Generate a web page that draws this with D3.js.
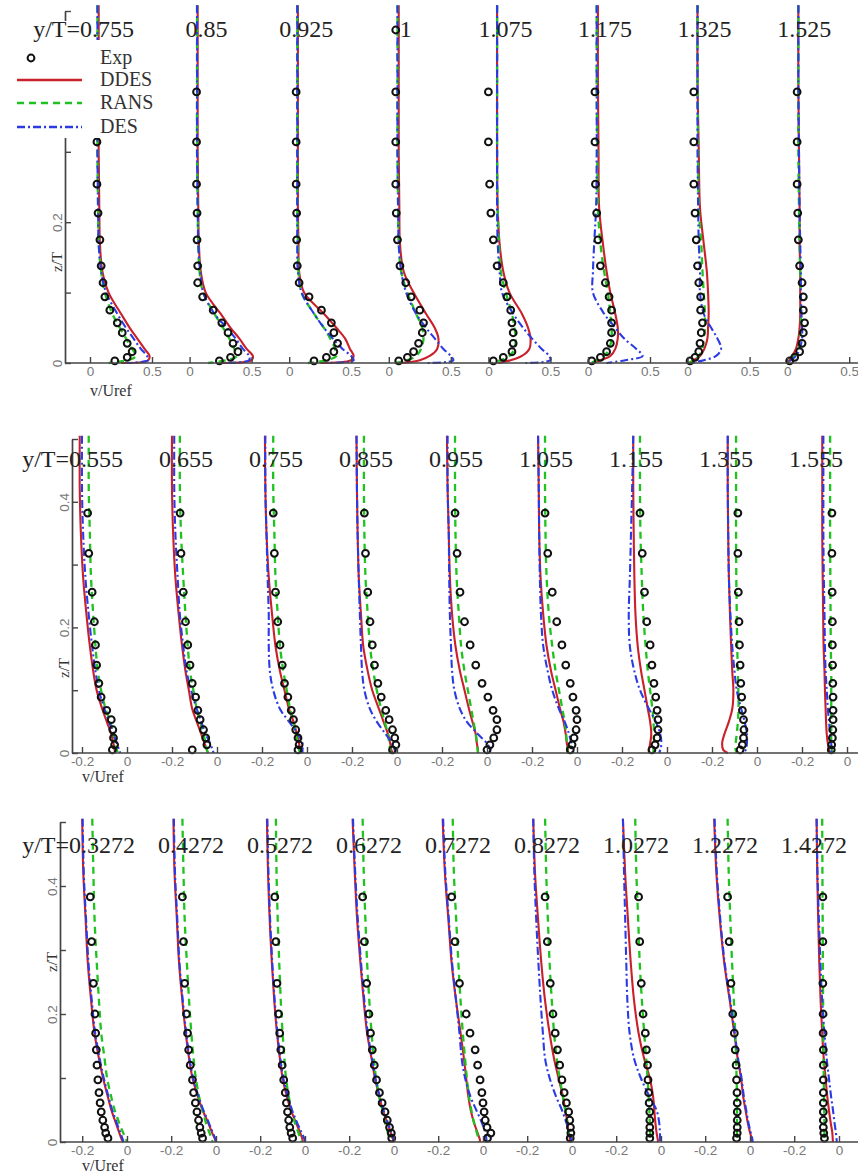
<!DOCTYPE html>
<html>
<head>
<meta charset="utf-8">
<script src="https://cdn.jsdelivr.net/npm/d3@7"></script>
<style>
  body { margin: 0; background: #fff; }
  svg { display: block; }
</style>
</head>
<body>
<svg id="chart" width="858" height="1173"></svg>
<script>
// ---- top row: y/T stations, v/Uref profiles (z/T listed top -> wall) ----
var topTitles = ['0.755', '0.85', '0.925', '1', '1.075', '1.175', '1.325', '1.525'];
var topTicks = [0, 0.5];
var topZ = [0.508, 0.4, 0.3, 0.22, 0.17, 0.13, 0.1, 0.07, 0.05, 0.035, 0.02, 0.01, 0.004, 0];
var topDDES = [
  [0.07, 0.07, 0.07, 0.075, 0.08, 0.10, 0.15, 0.25, 0.32, 0.38, 0.44, 0.48, 0.47, 0.25],
  [0.065, 0.065, 0.065, 0.07, 0.075, 0.09, 0.13, 0.25, 0.33, 0.40, 0.46, 0.51, 0.50, 0.25],
  [0.07, 0.07, 0.07, 0.07, 0.075, 0.08, 0.12, 0.28, 0.38, 0.45, 0.49, 0.52, 0.50, 0.25],
  [0.08, 0.08, 0.08, 0.085, 0.09, 0.12, 0.20, 0.30, 0.37, 0.40, 0.39, 0.33, 0.25, 0.10],
  [0.07, 0.07, 0.07, 0.075, 0.09, 0.12, 0.17, 0.27, 0.32, 0.34, 0.33, 0.27, 0.18, 0.08],
  [0.08, 0.08, 0.085, 0.09, 0.12, 0.15, 0.18, 0.22, 0.24, 0.24, 0.22, 0.18, 0.10, 0.03],
  [0.08, 0.08, 0.09, 0.10, 0.13, 0.155, 0.165, 0.17, 0.165, 0.16, 0.135, 0.10, 0.05, 0.01],
  [0.09, 0.09, 0.095, 0.10, 0.10, 0.105, 0.105, 0.105, 0.10, 0.09, 0.07, 0.04, 0.02, 0.0]
];
var topRANS = [
  [0.06, 0.06, 0.06, 0.065, 0.07, 0.09, 0.12, 0.18, 0.24, 0.29, 0.34, 0.37, 0.30, 0.15],
  [0.06, 0.06, 0.06, 0.065, 0.07, 0.08, 0.11, 0.20, 0.27, 0.32, 0.36, 0.38, 0.30, 0.15],
  [0.065, 0.065, 0.065, 0.065, 0.07, 0.075, 0.10, 0.20, 0.28, 0.33, 0.37, 0.38, 0.30, 0.15],
  [0.07, 0.07, 0.07, 0.075, 0.08, 0.10, 0.15, 0.22, 0.27, 0.28, 0.26, 0.22, 0.15, 0.05],
  [0.07, 0.07, 0.07, 0.075, 0.085, 0.10, 0.14, 0.19, 0.21, 0.22, 0.21, 0.17, 0.10, 0.03],
  [0.07, 0.07, 0.075, 0.08, 0.10, 0.13, 0.16, 0.18, 0.19, 0.19, 0.17, 0.13, 0.07, 0.02],
  [0.08, 0.08, 0.085, 0.09, 0.11, 0.12, 0.13, 0.14, 0.14, 0.13, 0.12, 0.09, 0.05, 0.01],
  [0.09, 0.09, 0.09, 0.095, 0.10, 0.105, 0.11, 0.11, 0.11, 0.10, 0.09, 0.06, 0.03, 0.0]
];
var topDES = [
  [0.06, 0.06, 0.06, 0.065, 0.07, 0.09, 0.13, 0.22, 0.29, 0.35, 0.41, 0.46, 0.47, 0.30],
  [0.06, 0.06, 0.06, 0.065, 0.07, 0.085, 0.11, 0.20, 0.30, 0.37, 0.43, 0.48, 0.48, 0.30],
  [0.065, 0.065, 0.065, 0.065, 0.065, 0.07, 0.10, 0.20, 0.28, 0.35, 0.43, 0.50, 0.52, 0.30],
  [0.07, 0.07, 0.07, 0.075, 0.08, 0.10, 0.14, 0.22, 0.30, 0.37, 0.44, 0.50, 0.52, 0.30],
  [0.07, 0.07, 0.07, 0.07, 0.075, 0.09, 0.11, 0.20, 0.28, 0.35, 0.43, 0.49, 0.50, 0.30],
  [0.07, 0.07, 0.07, 0.065, 0.05, 0.04, 0.04, 0.13, 0.22, 0.29, 0.39, 0.44, 0.30, 0.15],
  [0.08, 0.08, 0.08, 0.085, 0.09, 0.10, 0.10, 0.13, 0.19, 0.24, 0.27, 0.23, 0.13, 0.03],
  [0.09, 0.09, 0.095, 0.10, 0.105, 0.11, 0.11, 0.115, 0.12, 0.12, 0.10, 0.07, 0.03, 0.0]
];
var topExpZ = [0.473, 0.385, 0.314, 0.254, 0.213, 0.175, 0.138, 0.114, 0.094, 0.075, 0.057, 0.043, 0.028, 0.016, 0.008, 0.003];
var topExp = [
  [null, 0.056, 0.056, 0.056, 0.065, 0.08, 0.09, 0.105, 0.12, 0.16, 0.22, 0.26, 0.30, 0.34, 0.30, 0.20],
  [null, 0.056, 0.056, 0.056, 0.06, 0.06, 0.065, 0.065, 0.105, 0.19, 0.26, 0.31, 0.35, 0.39, 0.33, 0.24],
  [null, 0.056, 0.056, 0.056, 0.06, 0.06, 0.065, 0.08, 0.16, 0.26, 0.34, 0.36, 0.39, 0.36, 0.30, 0.20],
  [0.056, 0.056, 0.056, 0.056, 0.06, 0.07, 0.09, 0.137, 0.18, 0.25, 0.28, 0.27, 0.24, 0.20, 0.15, 0.08],
  [null, 0.0, 0.0, 0.01, 0.02, 0.04, 0.07, 0.12, 0.15, 0.18, 0.19, 0.20, 0.20, 0.19, 0.12, 0.04],
  [null, 0.056, 0.056, 0.06, 0.07, 0.08, 0.10, 0.14, 0.17, 0.19, 0.19, 0.19, 0.18, 0.15, 0.10, 0.03],
  [null, 0.05, 0.05, 0.05, 0.06, 0.07, 0.08, 0.09, 0.105, 0.105, 0.12, 0.11, 0.10, 0.09, 0.06, 0.02],
  [null, 0.08, 0.08, 0.08, 0.085, 0.09, 0.10, 0.12, 0.13, 0.13, 0.14, 0.13, 0.12, 0.10, 0.06, 0.02]
];

// ---- middle row ----
var midTitles = ['0.555', '0.655', '0.755', '0.855', '0.955', '1.055', '1.155', '1.355', '1.555'];
var midTicks = [-0.2, 0];
var midZ = [0.505, 0.42, 0.35, 0.28, 0.22, 0.17, 0.13, 0.1, 0.07, 0.05, 0.03, 0.015, 0.005, 0];
var midDDES = [
  [-0.21, -0.21, -0.205, -0.195, -0.18, -0.165, -0.15, -0.135, -0.11, -0.09, -0.07, -0.06, -0.055, -0.05],
  [-0.2, -0.2, -0.195, -0.185, -0.17, -0.155, -0.14, -0.125, -0.11, -0.09, -0.07, -0.055, -0.045, -0.04],
  [-0.187, -0.185, -0.18, -0.17, -0.155, -0.14, -0.12, -0.1, -0.08, -0.06, -0.045, -0.035, -0.03, -0.03],
  [-0.18, -0.178, -0.175, -0.17, -0.16, -0.15, -0.13, -0.11, -0.08, -0.06, -0.04, -0.03, -0.025, -0.02],
  [-0.178, -0.175, -0.17, -0.165, -0.155, -0.14, -0.12, -0.1, -0.08, -0.065, -0.05, -0.045, -0.04, -0.04],
  [-0.173, -0.17, -0.168, -0.162, -0.15, -0.135, -0.115, -0.095, -0.075, -0.06, -0.05, -0.045, -0.04, -0.04],
  [-0.15, -0.15, -0.148, -0.145, -0.14, -0.13, -0.115, -0.1, -0.085, -0.075, -0.07, -0.075, -0.08, -0.08],
  [-0.13, -0.13, -0.128, -0.125, -0.12, -0.115, -0.11, -0.105, -0.11, -0.125, -0.145, -0.155, -0.15, -0.13],
  [-0.11, -0.11, -0.11, -0.108, -0.106, -0.104, -0.1, -0.098, -0.095, -0.093, -0.09, -0.085, -0.08, -0.08]
];
var midRANS = [
  [-0.17, -0.17, -0.165, -0.16, -0.15, -0.14, -0.13, -0.115, -0.095, -0.075, -0.06, -0.05, -0.045, -0.04],
  [-0.165, -0.165, -0.16, -0.15, -0.14, -0.13, -0.12, -0.105, -0.09, -0.075, -0.06, -0.05, -0.045, -0.04],
  [-0.15, -0.15, -0.145, -0.14, -0.13, -0.12, -0.105, -0.09, -0.075, -0.06, -0.05, -0.04, -0.035, -0.03],
  [-0.147, -0.147, -0.145, -0.14, -0.13, -0.12, -0.105, -0.09, -0.07, -0.055, -0.04, -0.035, -0.03, -0.03],
  [-0.142, -0.142, -0.14, -0.135, -0.125, -0.115, -0.1, -0.085, -0.07, -0.06, -0.05, -0.045, -0.042, -0.04],
  [-0.142, -0.142, -0.14, -0.135, -0.125, -0.11, -0.095, -0.08, -0.065, -0.055, -0.048, -0.045, -0.043, -0.04],
  [-0.12, -0.12, -0.118, -0.112, -0.105, -0.095, -0.085, -0.075, -0.065, -0.06, -0.058, -0.058, -0.06, -0.06],
  [-0.093, -0.093, -0.093, -0.092, -0.09, -0.088, -0.085, -0.083, -0.082, -0.085, -0.09, -0.095, -0.095, -0.09],
  [-0.075, -0.075, -0.075, -0.074, -0.073, -0.072, -0.07, -0.07, -0.07, -0.07, -0.07, -0.07, -0.068, -0.065]
];
var midDES = [
  [-0.2, -0.2, -0.195, -0.185, -0.17, -0.155, -0.14, -0.125, -0.1, -0.08, -0.06, -0.045, -0.035, -0.03],
  [-0.19, -0.19, -0.185, -0.175, -0.165, -0.15, -0.135, -0.115, -0.09, -0.07, -0.05, -0.03, -0.02, -0.015],
  [-0.185, -0.185, -0.18, -0.175, -0.17, -0.17, -0.165, -0.15, -0.12, -0.08, -0.04, -0.02, -0.02, -0.02],
  [-0.18, -0.178, -0.175, -0.17, -0.165, -0.16, -0.155, -0.145, -0.12, -0.09, -0.05, -0.02, -0.01, -0.01],
  [-0.175, -0.175, -0.17, -0.168, -0.165, -0.16, -0.155, -0.145, -0.12, -0.09, -0.04, 0.0, 0.015, 0.01],
  [-0.173, -0.17, -0.168, -0.165, -0.16, -0.15, -0.13, -0.11, -0.08, -0.055, -0.035, -0.025, -0.02, -0.02],
  [-0.15, -0.155, -0.16, -0.165, -0.17, -0.165, -0.145, -0.12, -0.08, -0.05, -0.03, -0.025, -0.03, -0.035],
  [-0.13, -0.13, -0.128, -0.125, -0.118, -0.11, -0.1, -0.09, -0.07, -0.055, -0.045, -0.045, -0.05, -0.06],
  [-0.105, -0.105, -0.105, -0.103, -0.1, -0.098, -0.095, -0.09, -0.085, -0.08, -0.075, -0.07, -0.07, -0.07]
];
var midExpZ = [0.382, 0.318, 0.256, 0.209, 0.172, 0.14, 0.111, 0.089, 0.068, 0.053, 0.037, 0.024, 0.013, 0.005];
var midExp = [
  [-0.175, -0.17, -0.155, -0.145, -0.14, -0.135, -0.125, -0.115, -0.09, -0.07, -0.063, -0.06, -0.055, -0.065],
  [-0.164, -0.16, -0.15, -0.14, -0.13, -0.12, -0.11, -0.095, -0.085, -0.075, -0.06, -0.05, -0.045, -0.11],
  [-0.15, -0.145, -0.14, -0.13, -0.12, -0.11, -0.1, -0.085, -0.07, -0.06, -0.05, -0.04, -0.035, -0.04],
  [-0.145, -0.14, -0.13, -0.12, -0.11, -0.1, -0.085, -0.07, -0.05, -0.035, -0.02, -0.01, -0.005, -0.02],
  [-0.142, -0.133, -0.12, -0.1, -0.075, -0.05, -0.022, 0.004, 0.027, 0.044, 0.044, 0.03, 0.013, 0.0],
  [-0.142, -0.13, -0.11, -0.09, -0.067, -0.05, -0.03, -0.018, -0.004, 0.0, -0.004, -0.013, -0.022, -0.03],
  [-0.12, -0.11, -0.1, -0.09, -0.075, -0.067, -0.058, -0.05, -0.044, -0.04, -0.04, -0.044, -0.053, -0.067],
  [-0.085, -0.085, -0.083, -0.08, -0.078, -0.075, -0.072, -0.068, -0.065, -0.06, -0.058, -0.06, -0.065, -0.075],
  [-0.067, -0.067, -0.066, -0.065, -0.065, -0.064, -0.063, -0.062, -0.062, -0.062, -0.063, -0.065, -0.068, -0.07]
];

// ---- bottom row ----
var botTitles = ['0.3272', '0.4272', '0.5272', '0.6272', '0.7272', '0.8272', '1.0272', '1.2272', '1.4272'];
var botTicks = [-0.2, 0];
var botZ = [0.505, 0.42, 0.35, 0.28, 0.22, 0.17, 0.13, 0.1, 0.07, 0.05, 0.03, 0.015, 0.005, 0];
var botDDES = [
  [-0.2, -0.195, -0.185, -0.175, -0.16, -0.145, -0.125, -0.107, -0.085, -0.07, -0.05, -0.035, -0.025, -0.018],
  [-0.19, -0.185, -0.175, -0.165, -0.15, -0.135, -0.12, -0.105, -0.08, -0.06, -0.035, -0.018, -0.005, 0.0],
  [-0.17, -0.165, -0.158, -0.148, -0.137, -0.125, -0.112, -0.1, -0.08, -0.063, -0.04, -0.022, -0.012, -0.01],
  [-0.185, -0.175, -0.165, -0.15, -0.135, -0.12, -0.1, -0.085, -0.065, -0.05, -0.03, -0.015, -0.005, 0.0],
  [-0.18, -0.17, -0.155, -0.14, -0.12, -0.1, -0.085, -0.075, -0.065, -0.055, -0.04, -0.025, -0.015, -0.013],
  [-0.173, -0.165, -0.152, -0.137, -0.12, -0.1, -0.08, -0.06, -0.04, -0.03, -0.02, -0.015, -0.01, -0.01],
  [-0.17, -0.16, -0.148, -0.135, -0.12, -0.1, -0.075, -0.05, -0.035, -0.03, -0.025, -0.02, -0.015, -0.013],
  [-0.16, -0.15, -0.135, -0.115, -0.09, -0.07, -0.055, -0.04, -0.03, -0.02, -0.01, 0.0, 0.008, 0.01],
  [-0.1, -0.097, -0.093, -0.088, -0.082, -0.075, -0.068, -0.06, -0.052, -0.045, -0.037, -0.03, -0.028, -0.027]
];
var botRANS = [
  [-0.155, -0.15, -0.145, -0.135, -0.125, -0.115, -0.1, -0.089, -0.07, -0.055, -0.035, -0.018, -0.005, 0.0],
  [-0.15, -0.145, -0.14, -0.13, -0.12, -0.11, -0.1, -0.09, -0.075, -0.06, -0.045, -0.03, -0.02, -0.015],
  [-0.13, -0.127, -0.122, -0.115, -0.108, -0.1, -0.092, -0.085, -0.072, -0.06, -0.045, -0.03, -0.02, -0.015],
  [-0.14, -0.135, -0.128, -0.12, -0.11, -0.1, -0.09, -0.08, -0.065, -0.052, -0.04, -0.028, -0.02, -0.015],
  [-0.135, -0.13, -0.12, -0.11, -0.1, -0.09, -0.08, -0.072, -0.062, -0.052, -0.04, -0.028, -0.02, -0.018],
  [-0.12, -0.115, -0.108, -0.1, -0.09, -0.08, -0.068, -0.055, -0.04, -0.03, -0.02, -0.015, -0.012, -0.01],
  [-0.115, -0.11, -0.102, -0.095, -0.085, -0.075, -0.066, -0.06, -0.055, -0.052, -0.05, -0.048, -0.046, -0.045],
  [-0.1, -0.095, -0.088, -0.08, -0.072, -0.066, -0.062, -0.06, -0.058, -0.058, -0.058, -0.058, -0.058, -0.058],
  [-0.075, -0.074, -0.073, -0.072, -0.071, -0.07, -0.069, -0.068, -0.067, -0.066, -0.065, -0.065, -0.065, -0.065]
];
var botDES = [
  [-0.198, -0.193, -0.183, -0.172, -0.157, -0.142, -0.122, -0.104, -0.082, -0.066, -0.046, -0.03, -0.02, -0.015],
  [-0.188, -0.183, -0.173, -0.163, -0.148, -0.133, -0.118, -0.102, -0.077, -0.057, -0.032, -0.015, -0.003, 0.0],
  [-0.168, -0.163, -0.156, -0.146, -0.135, -0.123, -0.11, -0.097, -0.076, -0.058, -0.035, -0.015, -0.003, 0.0],
  [-0.183, -0.173, -0.162, -0.147, -0.132, -0.117, -0.098, -0.083, -0.063, -0.047, -0.027, -0.012, -0.002, 0.0],
  [-0.178, -0.168, -0.153, -0.138, -0.12, -0.105, -0.095, -0.08, -0.055, -0.03, -0.005, 0.01, 0.015, 0.015],
  [-0.173, -0.168, -0.16, -0.15, -0.14, -0.13, -0.12, -0.1, -0.07, -0.045, -0.025, -0.012, -0.005, -0.003],
  [-0.17, -0.165, -0.16, -0.155, -0.15, -0.14, -0.12, -0.09, -0.05, -0.02, -0.008, -0.005, -0.004, -0.004],
  [-0.158, -0.148, -0.133, -0.113, -0.088, -0.068, -0.053, -0.038, -0.027, -0.017, -0.007, 0.003, 0.01, 0.012],
  [-0.1, -0.096, -0.09, -0.083, -0.075, -0.065, -0.055, -0.045, -0.035, -0.027, -0.02, -0.014, -0.011, -0.01]
];
var botExpZ = [0.383, 0.313, 0.248, 0.2, 0.17, 0.144, 0.12, 0.097, 0.077, 0.061, 0.047, 0.034, 0.023, 0.014, 0.006];
var botExp = [
  [-0.164, -0.158, -0.15, -0.143, -0.14, -0.137, -0.134, -0.13, -0.125, -0.12, -0.115, -0.108, -0.1, -0.095, -0.085],
  [-0.15, -0.145, -0.14, -0.132, -0.127, -0.122, -0.115, -0.105, -0.1, -0.092, -0.085, -0.078, -0.072, -0.066, -0.06],
  [-0.135, -0.13, -0.125, -0.118, -0.113, -0.108, -0.102, -0.095, -0.088, -0.083, -0.078, -0.073, -0.068, -0.062, -0.055],
  [-0.14, -0.132, -0.122, -0.112, -0.105, -0.097, -0.088, -0.078, -0.065, -0.053, -0.04, -0.03, -0.02, -0.012, -0.01],
  [-0.14, -0.125, -0.105, -0.075, -0.058, -0.035, -0.024, -0.013, -0.005, 0.0, 0.005, 0.01, 0.018, 0.035, 0.02],
  [-0.12, -0.11, -0.097, -0.085, -0.075, -0.065, -0.055, -0.045, -0.035, -0.025, -0.015, -0.01, -0.007, -0.005, -0.008],
  [-0.1, -0.095, -0.088, -0.08, -0.07, -0.065, -0.06, -0.058, -0.055, -0.053, -0.05, -0.05, -0.05, -0.05, -0.05],
  [-0.1, -0.093, -0.085, -0.077, -0.07, -0.066, -0.062, -0.06, -0.058, -0.057, -0.057, -0.057, -0.057, -0.057, -0.06],
  [-0.072, -0.072, -0.072, -0.071, -0.071, -0.07, -0.07, -0.07, -0.07, -0.07, -0.07, -0.07, -0.07, -0.068, -0.065]
];

var legendNames = ['Exp', 'DDES', 'RANS', 'DES'];

// ---- styles and layout ----
var serif = '"Liberation Serif", "Times New Roman", serif';
var sans = '"Liberation Sans", Arial, sans-serif';
var styles = {
  DDES: { stroke: '#c9202a', width: 2.1, dash: null },
  RANS: { stroke: '#1fc21f', width: 2.3, dash: '7,5' },
  DES:  { stroke: '#2b3be3', width: 2.1, dash: '8,3,2,3' }
};

var rows = [
  { titles: topTitles, ticks: topTicks, z: topZ, expZ: topExpZ,
    DDES: topDDES, RANS: topRANS, DES: topDES, exp: topExp,
    axisX: 65, zero0: 90, step: 99.6, ppu: 124, y0: 363, yHalf: 11,
    titleDx: 17, titleY: 37, zLabels: [0, 0.2], zLabelY: 262, vLabelX: 90, vLabelY: 396 },
  { titles: midTitles, ticks: midTicks, z: midZ, expZ: midExpZ,
    DDES: midDDES, RANS: midRANS, DES: midDES, exp: midExp,
    axisX: 72, zero0: 127, step: 90, ppu: 225, y0: 753, yHalf: 439,
    titleDx: -31, titleY: 467, zLabels: [0, 0.2, 0.4], zLabelY: 668, vLabelX: 82, vLabelY: 782 },
  { titles: botTitles, ticks: botTicks, z: botZ, expZ: botExpZ,
    DDES: botDDES, RANS: botRANS, DES: botDES, exp: botExp,
    axisX: 60, zero0: 127, step: 89, ppu: 224, y0: 1142, yHalf: 822,
    titleDx: -25, titleY: 853, zLabels: [0, 0.2, 0.4], zLabelY: 962, vLabelX: 82, vLabelY: 1171 }
];

var svg = d3.select('#chart');

rows.forEach(function (row, r) {
  var g = svg.append('g').attr('class', 'row');
  var y = d3.scaleLinear().domain([0, 0.5]).range([row.y0, row.yHalf]);
  var lines = g.append('g');
  var marks = g.append('g');
  var axes = g.append('g');

  row.titles.forEach(function (title, i) {
    var left = row.zero0 + i * row.step;
    var x = d3.scaleLinear().domain([0, 1]).range([left, left + row.ppu]);
    var line = d3.line()
      .x(function (d) { return x(d.v); })
      .y(function (d) { return y(d.z); })
      .curve(d3.curveCatmullRom.alpha(0.5));

    ['DDES', 'RANS', 'DES'].forEach(function (key) {
      var pts = row.z.map(function (z, k) { return { z: z, v: row[key][i][k] }; });
      var st = styles[key];
      lines.append('path')
        .attr('d', line(pts))
        .attr('fill', 'none')
        .attr('stroke', st.stroke)
        .attr('stroke-width', st.width)
        .attr('stroke-dasharray', st.dash);
    });

    var exp = row.expZ.map(function (z, k) { return { z: z, v: row.exp[i][k] }; })
      .filter(function (d) { return d.v !== null; });
    marks.selectAll('circle.c' + i)
      .data(exp)
      .enter()
      .append('circle')
      .attr('cx', function (d) { return x(d.v); })
      .attr('cy', function (d) { return y(d.z); })
      .attr('r', 3.4)
      .attr('fill', 'none')
      .attr('stroke', '#111')
      .attr('stroke-width', 2);

    // x ticks for this profile
    var ax = axes.append('g')
      .attr('transform', 'translate(0,' + row.y0 + ')')
      .call(d3.axisBottom(x).tickValues(row.ticks).tickSizeInner(-6).tickSizeOuter(0).tickPadding(3)
        .tickFormat(function (d) { return String(d); }));
    ax.select('.domain').remove();
    ax.selectAll('line').attr('stroke', '#444').attr('stroke-width', 1.4);
    ax.selectAll('text').attr('fill', '#777').style('font-family', sans).style('font-size', '13.5px');

    // station title
    var t = g.append('text')
      .attr('x', x(0) + row.titleDx)
      .attr('y', row.titleY)
      .attr('text-anchor', 'middle')
      .style('font-family', serif)
      .style('font-size', '24px')
      .attr('fill', '#222')
      .text(title);
    if (i === 0) {
      var w = t.node().getComputedTextLength();
      g.append('text')
        .attr('x', x(0) + row.titleDx - w / 2)
        .attr('y', row.titleY)
        .attr('text-anchor', 'end')
        .style('font-family', serif)
        .style('font-size', '24px')
        .attr('fill', '#222')
        .text('y/T=');
    }
  });

  // long x axis line
  axes.append('line')
    .attr('x1', row.axisX).attr('x2', 858)
    .attr('y1', row.y0).attr('y2', row.y0)
    .attr('stroke', '#444').attr('stroke-width', 1.7);

  // z/T axis
  var ay = axes.append('g')
    .attr('transform', 'translate(' + row.axisX + ',0)')
    .call(d3.axisLeft(y).tickValues([0, 0.1, 0.2, 0.3, 0.4, 0.5]).tickSizeInner(-6).tickSizeOuter(0)
      .tickFormat(function (d) { return row.zLabels.indexOf(d) >= 0 ? String(d) : ''; }));
  ay.select('.domain').attr('stroke', '#444').attr('stroke-width', 1.7);
  ay.selectAll('line').attr('stroke', '#444').attr('stroke-width', 1.4);
  ay.selectAll('text')
    .attr('transform', 'rotate(-90)')
    .attr('x', 0).attr('y', -3).attr('dy', 0)
    .attr('text-anchor', 'middle')
    .attr('fill', '#777')
    .style('font-family', sans).style('font-size', '13.5px');

  g.append('text')
    .attr('transform', 'translate(' + (row.axisX - 3) + ',' + row.zLabelY + ') rotate(-90)')
    .attr('text-anchor', 'middle')
    .style('font-family', serif).style('font-size', '15px')
    .attr('fill', '#333')
    .text('z/T');

  g.append('text')
    .attr('x', row.vLabelX).attr('y', row.vLabelY)
    .style('font-family', serif).style('font-size', '16px')
    .attr('fill', '#333')
    .text('v/Uref');

  if (r === 0) {
    // legend box sits over the top row's left corner
    var lg = svg.append('g');
    lg.append('rect').attr('x', 0).attr('y', 40).attr('width', 150).attr('height', 98).attr('fill', '#fff');
    lg.append('rect').attr('x', 55).attr('y', 21).attr('width', 14).attr('height', 20).attr('fill', '#fff');
    var ly = [58, 80, 103, 127];
    legendNames.forEach(function (name, k) {
      if (k === 0) {
        lg.append('circle').attr('cx', 31).attr('cy', ly[k]).attr('r', 3.4)
          .attr('fill', 'none').attr('stroke', '#111').attr('stroke-width', 2);
      } else {
        var st = styles[name];
        lg.append('line').attr('x1', 17).attr('x2', 82).attr('y1', ly[k]).attr('y2', ly[k])
          .attr('stroke', st.stroke).attr('stroke-width', st.width + 0.4)
          .attr('stroke-dasharray', st.dash);
      }
      lg.append('text').attr('x', 100).attr('y', ly[k] + 6)
        .style('font-family', serif).style('font-size', '20px')
        .attr('fill', '#333').text(name);
    });
    // re-draw the first title on top of the legend box
    svg.node().appendChild(g.selectAll('text').filter(function () {
      return this.textContent === 'y/T=';
    }).node());
    svg.node().appendChild(g.selectAll('text').filter(function () {
      return this.textContent === topTitles[0];
    }).node());
  }
});
</script>
</body>
</html>
